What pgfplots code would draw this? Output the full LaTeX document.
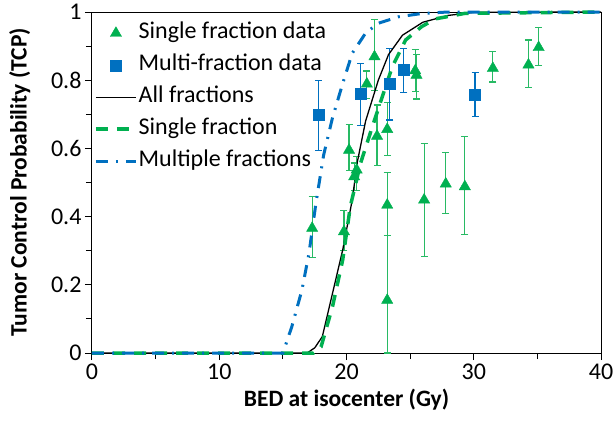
\documentclass[border=0pt]{standalone}
\usepackage{fontspec}
\setmainfont{Carlito}
\usepackage{pgfplots}
\pgfplotsset{compat=1.18}
\definecolor{tcpgreen}{RGB}{0,176,80}
\definecolor{tcpblue}{RGB}{0,112,192}
\definecolor{errgreen}{RGB}{40,186,100}
\pgfplotsset{
    lineleg/.style={legend image code/.code={\draw[##1] (0pt,0pt) -- (40pt,0pt);}},
    markleg/.style={legend image code/.code={\draw[mark repeat=2, mark phase=2, ##1]
        plot coordinates {(0pt,0pt) (20pt,0pt) (40pt,0pt)};}},
}

\begin{document}
\begin{tikzpicture}
\begin{axis}[
    scale only axis,
    width=509pt, height=341pt,
    xmin=0, xmax=40, ymin=0, ymax=1,
    xtick={0,10,20,30,40},
    ytick={0,0.2,0.4,0.6,0.8,1},
    minor x tick num=1, minor y tick num=1,
    tick align=outside, xtick pos=bottom, ytick pos=left,
    major tick length=7pt, minor tick length=6pt,
    axis line style={line width=1pt},
    every tick/.style={black, line width=1pt},
    tick label style={font=\fontsize{24}{28}\selectfont},
    /pgf/number format/assume math mode=true,
    xlabel={BED at isocenter (Gy)},
    ylabel={Tumor Control Probability (TCP)},
    label style={font=\fontsize{23.5}{28}\selectfont\bfseries},
    xlabel shift=3pt, ylabel shift=14pt,
    clip=false,
    legend cell align=left,
    legend style={at={(0,1)}, anchor=north west, draw=none, fill=none,
        font=\fontsize{24}{28}\selectfont, row sep=10pt,
        nodes={text height=15pt, text depth=5pt, inner sep=1pt},
        xshift=-1pt, yshift=-8pt},
]
% single fraction data
\addplot+[only marks, mark=triangle*, mark size=6.5pt, markleg,
    mark options={fill=tcpgreen, draw=tcpgreen},
    error bars/.cd, y dir=both, y explicit,
    error bar style={line width=1.2pt, errgreen},
    error mark options={rotate=90, mark size=3.5pt, line width=1.2pt, errgreen}]
    coordinates {
    (17.3,0.366) += (0,0.092) -= (0,0.085)
    (19.8,0.356) += (0,0.063) -= (0,0.056)
    (20.2,0.595) += (0,0.074) -= (0,0.060)
    (20.6,0.517) += (0,0.040) -= (0,0.040)
    (20.8,0.537) += (0,0.040) -= (0,0.060)
    (21.6,0.789) += (0,0.038) -= (0,0.042)
    (22.2,0.869) += (0,0.108) -= (0,0.100)
    (22.4,0.636) += (0,0.091) -= (0,0.087)
    (23.2,0.656) += (0,0.079) -= (0,0.076)
    (23.2,0.434) += (0,0.096) -= (0,0.090)
    (23.2,0.155) += (0,0.190) -= (0,0.155)
    (25.4,0.828) += (0,0.061) -= (0,0.060)
    (25.5,0.815) += (0,0.060) -= (0,0.070)
    (26.1,0.449) += (0,0.166) -= (0,0.166)
    (27.8,0.496) += (0,0.093) -= (0,0.088)
    (29.3,0.488) += (0,0.146) -= (0,0.140)
    (31.5,0.835) += (0,0.049) -= (0,0.040)
    (34.3,0.845) += (0,0.073) -= (0,0.066)
    (35.1,0.896) += (0,0.058) -= (0,0.054)
    };
\addlegendentry{Single fraction data}
% multi-fraction data
\addplot+[only marks, mark=square*, mark size=5.5pt, markleg,
    mark options={fill=tcpblue, draw=tcpblue},
    error bars/.cd, y dir=both, y explicit,
    error bar style={line width=1.2pt, tcpblue},
    error mark options={rotate=90, mark size=3.5pt, line width=1.2pt, tcpblue}]
    coordinates {
    (17.8,0.698) += (0,0.100) -= (0,0.103)
    (21.1,0.759) += (0,0.090) -= (0,0.092)
    (23.4,0.789) += (0,0.103) -= (0,0.106)
    (24.5,0.830) += (0,0.062) -= (0,0.067)
    (30.1,0.757) += (0,0.065) -= (0,0.064)
    };
\addlegendentry{Multi-fraction data}
% model curves
\addplot[black, line width=1.3pt, lineleg]
    coordinates {
    (0,0) (16.9,0) (17.5,0.015) (18.1,0.048) (18.9,0.175) (19.7,0.302)
    (20.45,0.449) (20.85,0.56) (21.5,0.68) (22.5,0.80) (23.3,0.875)
    (24.4,0.932) (26,0.97) (28,0.99) (30,0.999) (40,1)
    };
\addlegendentry{All fractions}
\addplot[tcpgreen, line width=3.5pt, dash pattern=on 12pt off 9pt, lineleg]
    coordinates {
    (0,0) (17.4,0) (18,0.018) (18.9,0.136) (19.7,0.273) (20.3,0.43)
    (21.1,0.556) (22,0.66) (22.8,0.75) (23.6,0.84) (24.65,0.918)
    (25.9,0.957) (27,0.98) (29.3,0.996) (40,1)
    };
\addlegendentry{Single fraction}
\addplot[tcpblue, line width=3pt, dash pattern=on 12pt off 8pt on 2pt off 8pt, lineleg]
    coordinates {
    (0,0) (15,0) (15.7,0.077) (16.5,0.185) (17.05,0.292) (17.6,0.44)
    (18.2,0.58) (18.9,0.69) (19.7,0.79) (20.45,0.879) (21.5,0.938)
    (22.5,0.967) (24.1,0.986) (26,0.996) (28,1) (40,1)
    };
\addlegendentry{Multiple fractions}
\end{axis}
\pgfresetboundingbox
\path ([shift={(-92pt,-68pt)}]current axis.south west)
    rectangle ([shift={(13pt,12pt)}]current axis.north east);
\end{tikzpicture}
\end{document}
